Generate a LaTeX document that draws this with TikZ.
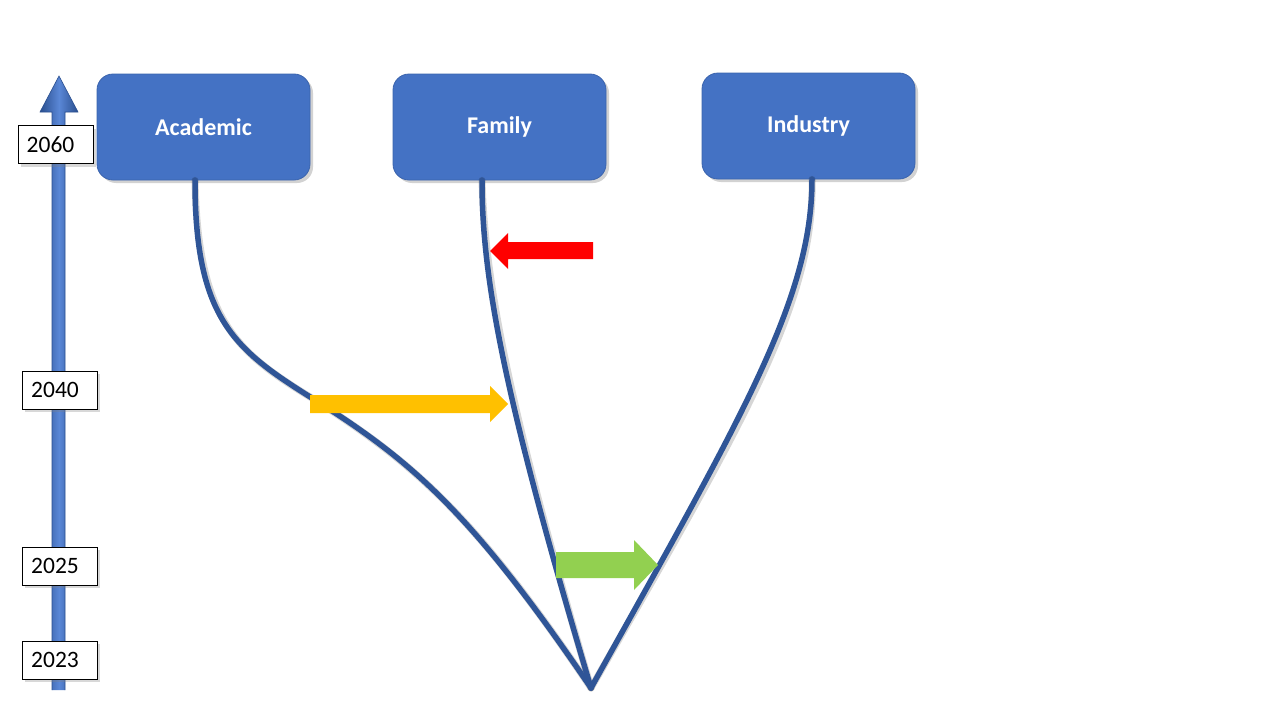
\documentclass[tikz,border=0pt]{standalone}
\usepackage{fontspec}
\setmainfont{Carlito}
\usetikzlibrary{shadows}
\definecolor{boxblue}{HTML}{4472C4}
\definecolor{boxedge}{HTML}{3B64AD}
\definecolor{linkblue}{HTML}{2F5597}
\definecolor{axlight}{HTML}{5A87D6}
\definecolor{axdark}{HTML}{2A4F8F}
\definecolor{redarr}{HTML}{FF0000}
\definecolor{yelarr}{HTML}{FFC000}
\definecolor{grnarr}{HTML}{92D050}
\tikzset{
  catbox/.style={draw=boxedge, line width=0.8pt, fill=boxblue, rounded corners=16pt,
    minimum width=213pt, minimum height=106pt, text=white,
    font=\fontsize{24}{28}\selectfont\bfseries,
    drop shadow={shadow xshift=3pt, shadow yshift=-3pt, opacity=0.35}},
  yearbox/.style={draw=black, line width=0.8pt, fill=white, minimum width=75pt,
    minimum height=38pt, inner sep=0pt, font=\fontsize{23.5}{26}\selectfont,
    drop shadow={shadow xshift=3pt, shadow yshift=-3pt, opacity=0.3}},
  yeartext/.style={font=\fontsize{23.5}{26}\selectfont, inner sep=0pt},
  branch/.style={draw=linkblue, line width=5.5pt, line cap=round, line join=round},
  branchshadow/.style={draw=black, opacity=0.16, line width=7pt, line cap=round}
}
\begin{document}
\begin{tikzpicture}[x=1pt, y=-1pt]
\useasboundingbox (0,0) rectangle (1280,720);
\fill[white] (0,0) rectangle (1280,720);

% timeline arrow
\shade[left color=axdark, right color=axdark, middle color=axlight]
  (52,690) -- (52,112) -- (40,112) -- (59,76) -- (78,112) -- (65,112) -- (65,690) -- cycle;
\draw[axdark, line width=0.6pt] (52,690) -- (52,112) -- (40,112) -- (59,76) -- (78,112) -- (65,112) -- (65,690);

% year labels
\node[yearbox] (y2060) at (55.5,144.5) {\phantom{2060}};
\node[yeartext] at ([xshift=-5pt]y2060.center) {2060};
\node[yearbox] (y2040) at (59.5,390) {\phantom{2040}};
\node[yeartext] at ([xshift=-4.5pt]y2040.center) {2040};
\node[yearbox] (y2025) at (59.5,566) {\phantom{2025}};
\node[yeartext] at ([xshift=-4.5pt]y2025.center) {2025};
\node[yearbox] (y2023) at (59.5,660) {\phantom{2023}};
\node[yeartext] at ([xshift=-4.5pt]y2023.center) {2023};

% category boxes
\node[catbox] (academic) at (203.5,127) {Academic};
\node[catbox] (family) at (499.5,127) {Family};
\node[catbox] (industry) at (808.5,126) {Industry};

\coordinate (root) at (591,688);
\coordinate (a0) at ([xshift=-8.5pt]academic.south);
\coordinate (f0) at ([xshift=-17.5pt]family.south);
\coordinate (i0) at ([xshift=3.5pt]industry.south);
\coordinate (amid) at (315,400);

% branch shadows
\begin{scope}[shift={(3,3)}]
\draw[branchshadow] (a0) .. controls (195,320) and (235,350) .. (amid)
   .. controls (410,460) and (470,510) .. (root);
\draw[branchshadow] (f0) .. controls (482,280) and (505,400) .. (root);
\draw[branchshadow] (i0) .. controls (812,300) and (740,420) .. (root);
\end{scope}

% branches
\draw[branch] (a0) .. controls (195,320) and (235,350) .. (amid)
   .. controls (410,460) and (470,510) .. (root);
\draw[branch] (f0) .. controls (482,280) and (505,400) .. (root);
\draw[branch] (i0) .. controls (812,300) and (740,420) .. (root);

% block arrows
\fill[redarr] (593,242) -- (508,242) -- (508,233) -- (490,251) -- (508,269) -- (508,259) -- (593,259) -- cycle;
\fill[yelarr] (310,395) -- (490,395) -- (490,386) -- (508,404) -- (490,422) -- (490,413) -- (310,413) -- cycle;
\fill[grnarr] (556,552) -- (634,552) -- (634,540) -- (658,565) -- (634,590) -- (634,578) -- (556,578) -- cycle;
\end{tikzpicture}
\end{document}
